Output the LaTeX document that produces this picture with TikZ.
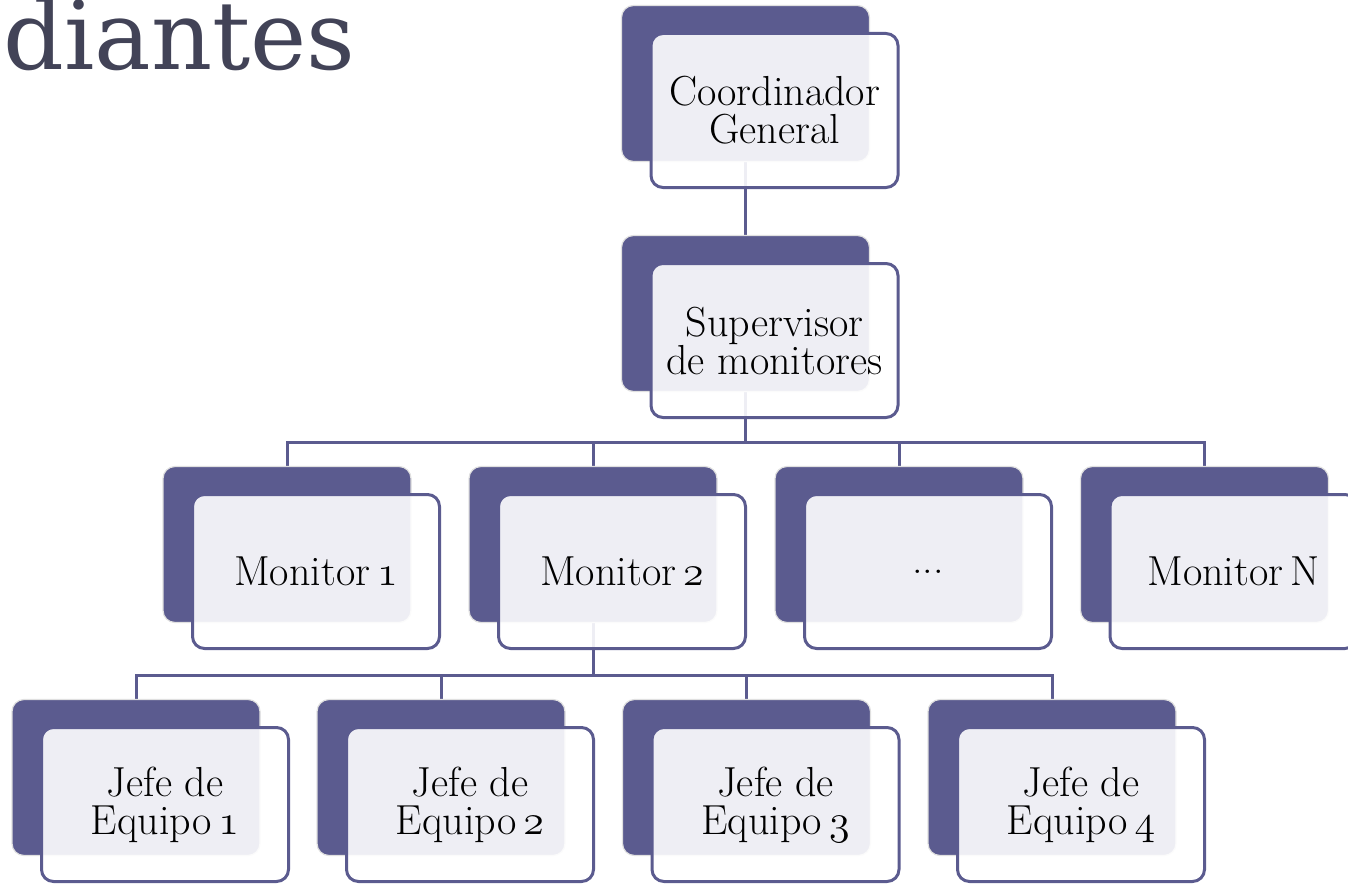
\RequirePackage{fix-cm}
\documentclass[tikz,border=0pt]{standalone}
\usepackage{fontspec}
\newfontfamily\titlefont{DejaVu Serif}
\definecolor{pp}{RGB}{91,91,143}
\definecolor{tt}{RGB}{66,67,87}
\pgfdeclarelayer{bg}
\pgfsetlayers{bg,main}
\newcommand{\osn}[1]{{\fontsize{42}{38}\usefont{OML}{cmm}{m}{it}#1}}
\tikzset{
 backbox/.style={draw=black!12, line width=1.2pt, fill=pp, rounded corners=12pt,
   minimum width=248pt, minimum height=156pt, inner sep=0pt},
 frontbox/.style={draw=pp, line width=3pt, fill=white, fill opacity=0.9, text opacity=1,
   rounded corners=12pt, minimum width=247pt, minimum height=154pt, align=center,
   font=\fontsize{42}{38}\selectfont, inner sep=0pt},
 conn/.style={draw=pp, line width=3pt},
 title/.style={font=\titlefont\fontsize{95}{95}\selectfont, text=tt, inner sep=0pt, anchor=base west},
}
\newcommand{\orgbox}[4]{%
  \node[backbox] (#1B) at (#2,#3) {};
  \node[frontbox] (#1) at ([shift={(29pt,-27pt)}]#1B.center) {#4};
}
\begin{document}
\begin{tikzpicture}[x=1pt,y=-1pt]
\useasboundingbox (0,0) rectangle (1348,883);
\node[title] (ttl) at (3,70) {diantes};
\orgbox{cg}{745.5}{83.5}{Coordinador\\General}
\orgbox{sm}{745.5}{313.5}{Supervisor\\de monitores}
\orgbox{ma}{287}{544.5}{Monitor\,\osn{1}}
\orgbox{mb}{593}{544.5}{Monitor\,\osn{2}}
\orgbox{mc}{899}{544.5}{...}
\orgbox{md}{1204.5}{544.5}{Monitor\,N}
\orgbox{ja}{136}{777.5}{Jefe de\\Equipo\,\osn{1}}
\orgbox{jb}{441}{777.5}{Jefe de\\Equipo\,\osn{2}}
\orgbox{jc}{746.5}{777.5}{Jefe de\\Equipo\,\osn{3}}
\orgbox{jd}{1052}{777.5}{Jefe de\\Equipo\,\osn{4}}
\coordinate (bus1) at (0,442);
\coordinate (bus2) at (0,675);
\begin{pgfonlayer}{bg}
\draw[conn] (cgB.south) -- (smB.north);
\foreach \c in {ma,mb,mc,md}{
  \draw[conn] (smB.south) -- (smB.south |- bus1) -| (\c B.north);
}
\foreach \c in {ja,jb,jc,jd}{
  \draw[conn] (mbB.south) -- (mbB.south |- bus2) -| (\c B.north);
}
\end{pgfonlayer}
\end{tikzpicture}
\end{document}
